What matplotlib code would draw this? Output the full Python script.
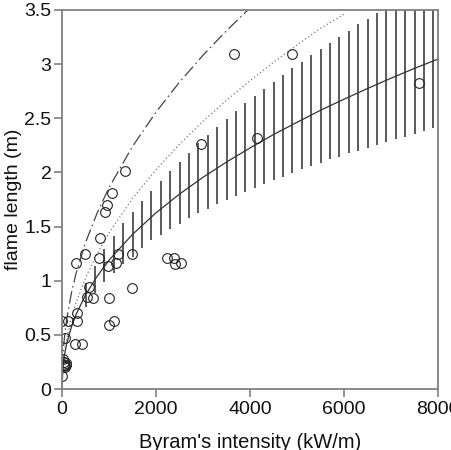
import matplotlib
matplotlib.use("Agg")
import matplotlib.pyplot as plt

plt.rcParams['font.family'] = ['Liberation Sans', 'DejaVu Sans']

# observed data (Byram's intensity kW/m, flame length m)
obs_I = [10, 20, 35, 50, 60, 80, 90, 40, 0, 135, 70, 310, 312, 300, 277, 419,
         489, 580, 525, 666, 808, 794, 915, 964, 1064, 1334, 1007, 985, 1007, 1106,
         1149, 1190, 1483, 1483, 2227, 2383, 2404, 2525, 2964, 3660, 4894, 4140, 7590]
obs_L = [0.12, 0.28, 0.25, 0.22, 0.20, 0.24, 0.22, 0.21, 0.63, 0.63, 0.47, 0.70, 0.63, 1.16, 0.42, 0.42,
         1.25, 0.94, 0.85, 0.84, 1.39, 1.21, 1.63, 1.70, 1.81, 2.01, 0.84, 1.14, 0.59, 0.63,
         1.16, 1.25, 1.25, 0.93, 1.21, 1.21, 1.15, 1.16, 2.26, 3.09, 3.09, 2.32, 2.83]

# fitted model (solid line)
fit_I = [0, 20, 50, 100, 200, 300, 500, 750, 1000, 1500, 2000, 2500, 3000, 3500, 4000,
         4500, 5000, 5500, 6000, 6500, 7000, 7500, 8000]
fit_L = [0.0, 0.202, 0.306, 0.419, 0.573, 0.689, 0.868, 1.043, 1.189, 1.428, 1.627, 1.800,
         1.955, 2.096, 2.226, 2.350, 2.463, 2.574, 2.676, 2.775, 2.870, 2.961, 3.047]

# prediction band (vertical hatching)
band_I = [500, 700, 900, 1100, 1300, 1500, 1700, 1900, 2100, 2300, 2500, 2700, 2900, 3100,
          3300, 3500, 3700, 3900, 4100, 4300, 4500, 4700, 4900, 5100, 5300, 5500, 5700, 5900,
          6100, 6300, 6500, 6700, 6900, 7100, 7300, 7500, 7700, 7900]
band_hi = [0.98, 1.14, 1.29, 1.41, 1.53, 1.637, 1.739, 1.831, 1.923, 2.016, 2.099, 2.182, 2.268,
           2.345, 2.42, 2.49, 2.567, 2.638, 2.705, 2.767, 2.838, 2.899, 2.961, 3.022, 3.084,
           3.14, 3.198, 3.253, 3.31, 3.37, 3.42, 3.47, 3.53, 3.58, 3.63, 3.68, 3.73, 3.78]
band_lo = [0.76, 0.885, 0.985, 1.075, 1.15, 1.215, 1.30, 1.376, 1.422, 1.474, 1.524, 1.576,
           1.622, 1.659, 1.708, 1.745, 1.782, 1.816, 1.859, 1.890, 1.930, 1.960, 1.992, 2.029,
           2.059, 2.090, 2.120, 2.145, 2.176, 2.198, 2.229, 2.253, 2.278, 2.305, 2.327, 2.355,
           2.382, 2.407]

# Byram (1959) - dash-dot
byr_I = [0, 25, 50, 100, 200, 300, 500, 750, 1000, 1500, 2000, 2500, 3000, 3500, 4000]
byr_L = [0.0, 0.341, 0.469, 0.645, 0.887, 1.069, 1.352, 1.628, 1.859, 2.240, 2.557, 2.834,
         3.082, 3.309, 3.519]

# Nelson & Adkins - dotted
nel_I = [0, 25, 50, 100, 200, 300, 500, 750, 1000, 1500, 2000, 2500, 3000, 3500, 4000,
         4500, 5000, 5500, 6000]
nel_L = [0.0, 0.236, 0.331, 0.465, 0.654, 0.798, 1.026, 1.251, 1.441, 1.759, 2.025, 2.260,
         2.472, 2.667, 2.846, 3.017, 3.177, 3.331, 3.46]

fig = plt.figure(figsize=(4.51, 4.50), dpi=100)
ax = fig.add_axes([62/451, 61/450, 376/451, 379/450])

ax.vlines(band_I, band_lo, band_hi, colors='#5a5a5a', linewidth=1.4)
ax.plot(fit_I, fit_L, color='#333333', linewidth=0.9)
ax.plot(byr_I, byr_L, color='#444444', linewidth=0.9, linestyle=(0, (10, 3, 1.2, 3)))
ax.plot(nel_I, nel_L, color='#777777', linewidth=0.9, linestyle=(0, (1, 2)))
ax.plot(obs_I, obs_L, linestyle='none', marker='o', markersize=7,
        markerfacecolor='none', markeredgecolor='#222222', markeredgewidth=0.8)

ax.set_xlim(0, 8000)
ax.set_ylim(0, 3.5)
ax.set_xticks([0, 2000, 4000, 6000, 8000])
ax.set_yticks([0, 0.5, 1, 1.5, 2, 2.5, 3, 3.5])
ax.set_yticklabels(['0', '0.5', '1', '1.5', '2', '2.5', '3', '3.5'])
for s in ax.spines.values():
    s.set_color('#808080')
    s.set_linewidth(1.3)
ax.tick_params(direction='out', length=6, width=1.2, color='#808080',
               labelsize=14, labelcolor='#111111')
ax.tick_params(axis='y', pad=1.5)
ax.tick_params(axis='x', pad=3)
ax.set_xlabel("Byram's intensity (kW/m)", fontsize=14.5, color='#111111')
ax.set_ylabel("flame length (m)", fontsize=14, color='#111111')
ax.xaxis.set_label_coords(0.5, -0.115)
ax.yaxis.set_label_coords(-0.106, 0.5)

fig.savefig('out.png', dpi=100)
